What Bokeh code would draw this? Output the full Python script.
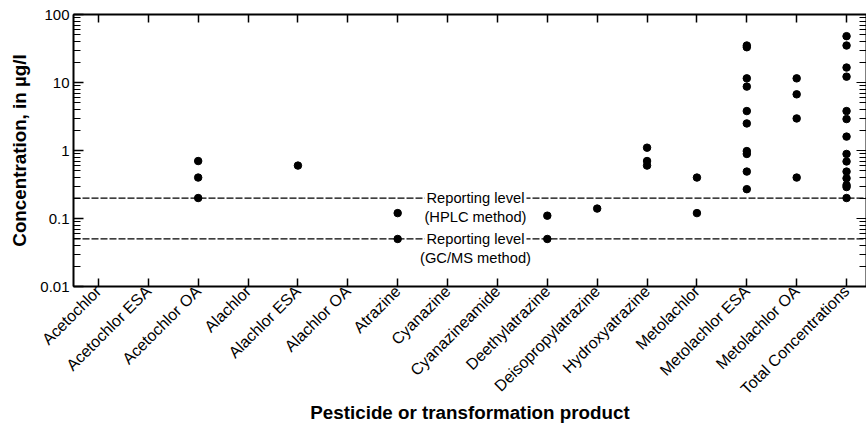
import math
from bokeh.plotting import figure
from bokeh.models import (Range1d, LinearAxis, LogAxis, FixedTicker, LogTicker, Span, Label,
                          NumeralTickFormatter, CustomJSTickFormatter, ColumnDataSource)
from bokeh.embed import file_html
from bokeh.resources import INLINE

categories = ["Acetochlor", "Acetochlor ESA", "Acetochlor OA", "Alachlor", "Alachlor ESA",
              "Alachlor OA", "Atrazine", "Cyanazine", "Cyanazineamide", "Deethylatrazine",
              "Deisopropylatrazine", "Hydroxyatrazine", "Metolachlor", "Metolachlor ESA",
              "Metolachlor OA", "Total Concentrations"]

acetochlor = []
acetochlor_esa = []
acetochlor_oa = [0.7, 0.4, 0.2]
alachlor = []
alachlor_esa = [0.6]
alachlor_oa = []
atrazine = [0.12, 0.05]
cyanazine = []
cyanazineamide = []
deethylatrazine = [0.11, 0.05]
deisopropylatrazine = [0.14]
hydroxyatrazine = [1.1, 0.7, 0.6]
metolachlor = [0.4, 0.12]
metolachlor_esa = [35, 33, 11.5, 8.7, 3.8, 2.5, 0.98, 0.89, 0.49, 0.27]
metolachlor_oa = [11.5, 6.7, 2.96, 0.4]
total_concentrations = [48, 35, 16.6, 12.2, 3.8, 2.9, 1.6, 0.89, 0.69, 0.49, 0.39, 0.31, 0.29, 0.2]

reporting_levels = [0.2, 0.05]
reporting_names = ["(HPLC method)", "(GC/MS method)"]

series = [acetochlor, acetochlor_esa, acetochlor_oa, alachlor, alachlor_esa, alachlor_oa,
          atrazine, cyanazine, cyanazineamide, deethylatrazine, deisopropylatrazine,
          hydroxyatrazine, metolachlor, metolachlor_esa, metolachlor_oa, total_concentrations]

xs, ys = [], []
for i, vals in enumerate(series):
    for v in vals:
        xs.append(i + 1)
        ys.append(v)

FONT = "Liberation Sans"

p = figure(width=866, height=431, x_range=Range1d(0.5, 16.4), y_range=Range1d(0.01, 100),
           y_axis_type="log", output_backend="svg", toolbar_location=None,
           min_border_left=73, min_border_right=0, min_border_top=14, min_border_bottom=145)
p.outline_line_color = None
p.xgrid.visible = False
p.ygrid.visible = False

# bottom axis
xa = p.xaxis[0]
xa.ticker = FixedTicker(ticks=list(range(1, len(categories) + 1)))
xa.major_label_overrides = {i + 1: c for i, c in enumerate(categories)}
xa.major_label_orientation = math.pi / 4
xa.major_label_text_font = FONT
xa.major_label_text_font_size = "16px"
xa.major_label_text_color = "black"
xa.major_label_standoff = 2
xa.major_tick_in = 8
xa.major_tick_out = 0
xa.minor_tick_in = 0
xa.minor_tick_out = 0
xa.axis_line_width = 2
xa.major_tick_line_width = 1.5
xa.axis_label = "Pesticide or transformation product"
xa.axis_label_text_font = FONT
xa.axis_label_text_font_style = "bold"
xa.axis_label_text_font_size = "18.8px"
xa.axis_label_text_color = "black"
xa.axis_label_standoff = -5

# left axis
ya = p.yaxis[0]
ya.ticker = LogTicker(num_minor_ticks=10)
ya.formatter = NumeralTickFormatter(format="0.[00]")
ya.major_label_text_font = FONT
ya.major_label_text_font_size = "15px"
ya.major_label_text_color = "black"
ya.major_label_standoff = 4
ya.major_tick_in = 10
ya.major_tick_out = 0
ya.minor_tick_in = 7
ya.minor_tick_out = 0
ya.axis_line_width = 2
ya.major_tick_line_width = 1.5
ya.axis_label = "Concentration, in µg/l"
ya.axis_label_text_font = FONT
ya.axis_label_text_font_style = "bold"
ya.axis_label_text_font_size = "18.8px"
ya.axis_label_text_color = "black"
ya.axis_label_standoff = 7

blank = CustomJSTickFormatter(code="return ''")

top = LinearAxis(ticker=FixedTicker(ticks=list(range(1, len(categories) + 1))), formatter=blank)
top.major_tick_in = 8
top.major_tick_out = 0
top.minor_tick_in = 0
top.minor_tick_out = 0
top.axis_line_width = 2
top.major_tick_line_width = 1.5
top.major_label_standoff = 0
p.add_layout(top, "above")

right = LogAxis(ticker=LogTicker(num_minor_ticks=10), formatter=blank)
right.major_tick_in = 10
right.major_tick_out = 0
right.minor_tick_in = 7
right.minor_tick_out = 0
right.axis_line_width = 2
right.major_label_standoff = 0
p.add_layout(right, "right")

for lvl, name in zip(reporting_levels, reporting_names):
    p.add_layout(Span(location=lvl, dimension="width", line_color="black",
                      line_width=1.2, line_dash="7 2"))
    p.add_layout(Label(x=8.56, y=lvl, text="Reporting level", text_align="center",
                       text_baseline="middle", text_font=FONT, text_font_size="14.7px",
                       text_color="black", background_fill_color="white", padding=2))
    p.add_layout(Label(x=8.56, y=lvl, y_offset=-19, text=name, text_align="center",
                       text_baseline="middle", text_font=FONT, text_font_size="14.7px",
                       text_color="black"))

src = ColumnDataSource(data=dict(x=xs, y=ys))
p.scatter("x", "y", source=src, size=7.5, fill_color="black", line_color="black")

open("out.html", "w").write(file_html(p, INLINE))
